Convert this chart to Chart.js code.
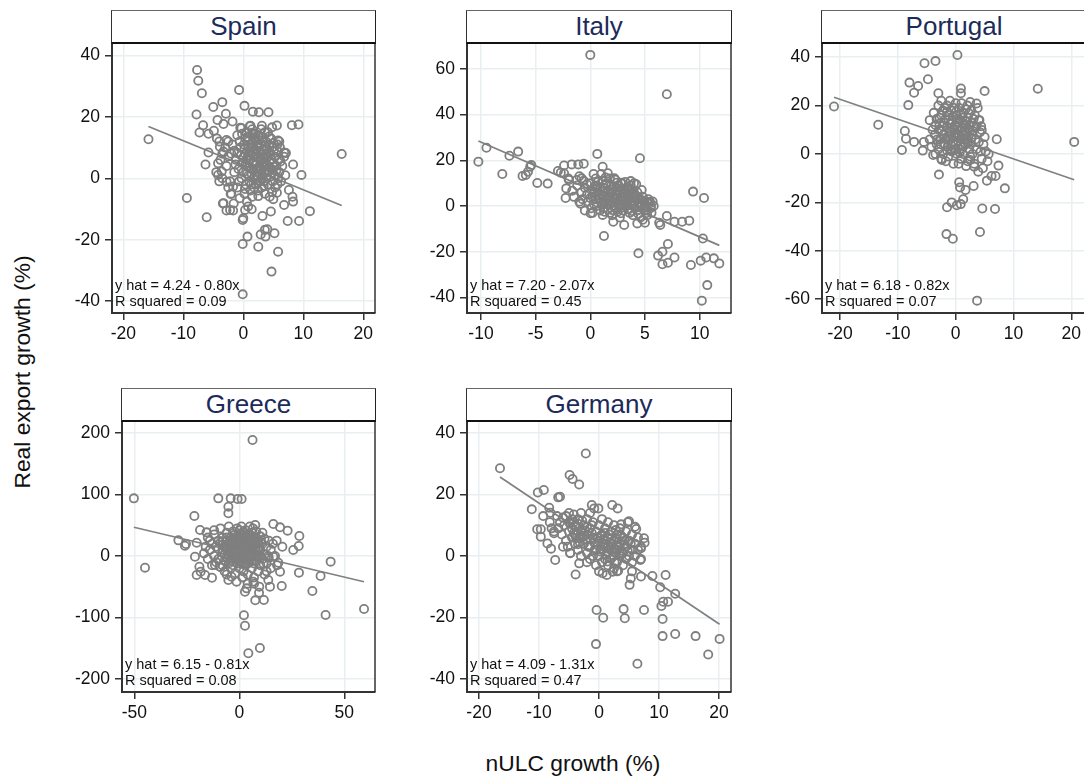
<!DOCTYPE html>
<html>
<head>
<meta charset="utf-8">
<script src="https://cdn.jsdelivr.net/npm/chart.js@4.4.1/dist/chart.umd.min.js"></script>
<style>
  html, body { margin:0; padding:0; background:#fff; width:1084px; height:778px; overflow:hidden; }
  body { position:relative; font-family:"Liberation Sans", Arial, sans-serif; }
  .panel { position:absolute; }
  .tbox { position:absolute; box-sizing:border-box; background:#fff;
          border-top:1.5px solid #666; border-left:1.5px solid #333; border-right:1.5px solid #222; border-bottom:2px solid #111;
          color:#1c2b5a; font-size:26px; text-align:center; line-height:30px; }
  .ytitle { position:absolute; font-size:22.8px; color:#111; white-space:nowrap; transform:translate(-50%,-50%) rotate(-90deg); }
  .xtitle { position:absolute; font-size:22.8px; color:#111; white-space:nowrap; transform:translate(-50%,-50%); }
</style>
</head>
<body>
<div class="ytitle" style="left:22px; top:372px;">Real export growth (%)</div>
<div class="xtitle" style="left:573px; top:763px;">nULC growth (%)</div>
<script>
// ---------- DATA ----------
const panelNames = ["Spain", "Italy", "Portugal", "Greece", "Germany"];

const fitIntercept = [4.24, 7.20, 6.18, 6.15, 4.09];
const fitSlope     = [-0.80, -2.07, -0.82, -0.81, -1.31];
const fitR2        = [0.09, 0.45, 0.07, 0.08, 0.47];

const spainXTicks = [-20, -10, 0, 10, 20];
const spainYTicks = [-40, -20, 0, 20, 40];
const italyXTicks = [-10, -5, 0, 5, 10];
const italyYTicks = [-40, -20, 0, 20, 40, 60];
const portugalXTicks = [-20, -10, 0, 10, 20];
const portugalYTicks = [-60, -40, -20, 0, 20, 40];
const greeceXTicks = [-50, 0, 50];
const greeceYTicks = [-200, -100, 0, 100, 200];
const germanyXTicks = [-20, -10, 0, 10, 20];
const germanyYTicks = [-40, -20, 0, 20, 40];

const spainPoints = [
 [-15.8,12.7],[-7.7,35.3],[-7.5,31.8],[-6.9,27.7],[-7.8,20.8],[-6.7,17.3],[-7.3,14.9],[-5,23.2],[-3.5,24.8],[-2.9,21.0],
 [-4.3,19.0],[-3.3,17.7],[-1.8,18.5],[-5.8,14.5],[-4.9,15.5],[-5.8,8.4],[-6.3,4.5],[-4.2,4.9],[-4.2,1.1],[-9.4,-6.4],
 [-6.1,-12.7],[-3.4,-8.2],[-2.8,-10.5],[-1.7,-10.5],[-1.6,-8.2],[-2.1,-5.1],[-0.7,28.8],[0.2,23.6],[1.6,21.7],[2.6,21.5],
 [4.2,21.5],[-0.3,16.3],[1.2,17.1],[3.1,17.1],[4.8,16.6],[5.6,17.2],[8.1,17.3],[9.2,17.5],[4.3,13.6],[5.8,12.3],
 [6.1,10.1],[6.8,8.4],[7.1,8.2],[8.3,4.5],[9.7,1.1],[16.4,7.9],[7.6,-3.8],[8.2,-6.0],[8.3,-7.6],[6.8,-8.7],
 [5.6,-4.7],[5.0,-6.8],[4.4,-6.0],[11.1,-10.7],[9.3,-13.9],[7.4,-13.9],[4.6,-10.8],[3.2,-12.3],[3.6,-16.8],[4.0,-16.6],
 [2.9,-18.3],[3.7,-19.0],[5.2,-17.9],[0.7,-19.0],[-0.1,-21.4],[2.5,-22.3],[5.8,-23.9],[4.7,-30.4],[-0.1,-37.8],[0,-13.0],
 [-0.1,-13.6],[0.3,-10.3],[0.8,-9.2],[0.6,-7.6],[1.4,-10.1],[2.5,-5.8],[-0.6,-6.5],[-3.3,-8.1],[-2.2,-10.3],
 [-4.4,13],[-3.9,10.3],[-3.3,8.7],[-2.8,12.5],[-2.5,7.1],[-3.6,2.2],[-2.8,-1.1],[-1.7,-2.7],
 [-2.5,12],[-2,8],[-2.8,4],[-1.5,2],[-2.2,-1],[-1,14],[-0.5,10],[-1.2,6],[-0.8,3],[-0.3,0],[-1,-3],[0.2,-5],
 [0.5,15],[0.8,12],[0.3,8],[1,6],[0.6,4],[0.9,1],[0.4,-2],[1.2,-4],
 [1.5,16],[1.8,13],[1.4,10],[2,8],[1.6,5],[2.2,3],[1.7,0],[2.1,-2],[1.5,-6],
 [2.6,14],[2.9,11],[2.5,9],[3,6],[2.7,4],[3.2,1],[2.8,-1],[3.1,-3],
 [3.6,15],[3.8,12],[3.5,9],[4,7],[3.7,5],[4.2,2],[3.9,0],[4.1,-2],[3.6,-5],
 [4.6,13],[4.8,10],[4.5,8],[5,5],[4.7,3],[5.2,1],[4.9,-1],[5.3,-3],
 [5.6,9],[5.9,6],[5.5,4],[6,2],[5.8,0],[6.3,-1],[6.5,4],[6.8,7],[7,1],
 [-3.5,8],[-3,10],[-4,12],[-3.8,6],[-4.5,2],[-3.5,0],[-2.5,-3],[-4,-1],[-2,-5],
 [0,2],[0.5,6],[1,9],[1.3,3],[1.9,7],[2.3,11],[2.4,1],[2.9,6.5],[3.3,8],[3.4,3.5],[4.4,5.5],[4.3,11],[5.3,7],
 [0.1,11],[-0.2,5],[-1.5,9],[-1.8,11],[-0.7,-1],[1,-1],[2.5,-4],[3.5,-1],[4.5,0.5],[5.5,2.5],[6.2,5.5],
 [0.7,13.5],[2,14.5],[3,16],[-0.5,16.5],[1.1,17],[5,11.5],[6,12],[2.2,5.5],[3.6,10.5],[1.6,11.5],[-1.3,4.5],
 [0.3,-3.5],[1.8,-3],[4.8,-4.5],[5.7,-2],
 [0.2,9.5],[0.8,7.5],[1.3,11],[1.9,9.5],[2.4,7],[2.9,2.5],[3.4,6.5],[3.9,9.5],[4.4,3.5],[0.6,1.5],
 [1.4,1.5],[2.0,-0.5],[3.0,-0.2],[3.8,2.8],[4.6,6.2],[5.1,9],[1.1,3.5],[2.6,12.5],[3.2,13.5],[0.3,13],
 [-0.4,7.5],[-0.6,12],[5.7,11],[4.1,15],[2.2,1],[1.2,7.3],[3.6,3.8],[4.9,1.8],[2.8,8.3],[1.7,14.2],
 [0.4,4.5],[1.6,8.5],[2.6,10.5],[3.1,4.8],[4.2,8.8],[1.9,4.2],[2.4,-1.5],[3.3,11.8],[0.9,10.2],[4.0,4.2],
 [2.1,12.8],[1.3,-2],[3.7,7.2],[2.7,2.8],[5.0,3.8],[0.0,6.8],[-1.0,8.2],[-0.2,14.5],[1.5,14.8],[3.4,-2.5]
];

const italyPoints = [
 [-10.24,19.4],[-9.5,25.5],[-8.05,14.0],[-7.4,22.0],[-6.6,23.8],[-6.2,13.1],[-5.9,13.6],[-5.7,15.0],[-5.5,17.2],[-5.4,17.9],
 [-4.85,10.1],[-3.9,9.8],[-2.96,15.3],[-2.7,14.6],[-2.4,17.7],[-2.4,14.3],[-1.7,18.2],[-1.1,18.2],[-0.6,18.5],[-2.2,7.7],
 [-2.26,3.5],[-1.65,6.7],[-1.0,1.9],[-1.95,11.4],[-1.25,11.4],[-0.8,12.1],[0,66.1],[0.64,22.8],[1.13,17.2],[1.6,14.3],
 [2.2,12.1],[2.87,10.2],[3.7,10.9],[4.0,9.9],[4.54,20.9],[7.0,48.9],[1.25,-13.1],[0.03,-3.2],[1.13,-3.9],[2.1,-6.9],
 [3.1,-8.3],[4.3,-7.6],[5.0,-7.3],[4.4,-20.7],[6.3,-7.3],[6.4,-8.3],[7.0,-4.4],[7.7,-6.9],[8.4,-6.9],[9.05,-6.4],
 [9.4,6.3],[10.4,3.5],[10.3,-14.2],[6.2,-21.7],[6.6,-20.0],[7.1,-16.6],[6.6,-25.5],[7.1,-24.8],[7.7,-22.5],[9.2,-25.8],
 [10.1,-23.9],[10.6,-22.5],[11.3,-22.9],[11.8,-25.1],[10.7,-34.6],[10.2,-41.4],[5.46,1.9],[5.55,-0.3],[5.1,-3.2],
 [-0.5,8],[-0.3,5],[-0.2,2],[0,10],[0.1,7],[0.2,4],[0.3,1],[0.1,-1],[0.5,12],[0.6,9],[0.7,6],[0.8,3],[0.6,0],[0.9,-2],
 [1.1,11],[1.2,8],[1.0,5],[1.3,2],[1.2,-1],[1.5,10],[1.6,7],[1.7,4],[1.5,1],[1.8,-3],[1.9,9],[2,6],[2.1,3],[2.2,0],[2.0,-4],
 [2.4,8],[2.5,5],[2.6,2],[2.4,-1],[2.7,-5],[2.8,10],[2.9,7],[3,4],[3.1,1],[3,-2],[3.3,8],[3.4,5],[3.5,3],[3.3,0],[3.6,-3],
 [3.8,7],[3.9,4],[4,2],[4.1,-1],[3.9,-4],[4.3,6],[4.4,3],[4.5,1],[4.3,-2],[4.6,-5],[4.8,4],[4.9,2],[5,0],[5.1,-2],[4.8,-6],
 [5.3,3],[5.4,1],[5.5,-1],[5.2,-4],[5.6,-3],
 [-0.8,6],[-0.7,3],[-0.6,11],[0.3,14],[1,14],[1.4,12.5],[2.3,11.5],[3.2,10.5],[3.7,9],[4.2,9.5],[4.7,7],[5.7,2],[5.8,0],
 [0.4,6],[0.9,8],[1.4,5.5],[1.9,2],[2.3,6.5],[2.8,3.5],[3.2,6.5],[3.7,1.5],[4.2,4.5],[4.7,0.5],[0.5,3],[1.1,0.5],[1.6,-1.5],
 [2.5,-2.5],[3.5,-1.5],[4.0,0],[4.4,-3.5],[2.1,8.5],[2.7,0.5],[1.8,12],[0.2,-3],
 [-1.5,4],[-1.2,9],[-2,12],[-1,13],[-0.9,1],[-0.5,-2],
 [0.8,4.5],[1.3,6.5],[1.8,5],[2.2,4],[2.6,6.8],[3.1,5.3],[3.6,4],[4.1,3],[1.6,2.5],[2.3,1.5],
 [2.9,2.2],[3.4,1.2],[1.0,2],[0.4,8.5],[1.4,9.3],[2.6,9],[3.9,5.8],[4.6,2.8],[4.9,-0.8],[3.8,-2.2],
 [2.9,-0.8],[2,-1.8],[1.3,-2.5],[0.7,10.5],[5.2,1.8],[-0.3,9.5],[0.0,3.5],
 [1.5,3.2],[2.0,7.2],[2.5,3.5],[3.0,5.8],[3.5,6.8],[1.2,4],[0.3,5.5],[2.8,-3.2],[4.0,5.2],[4.5,-0.5],
 [3.2,2.8],[1.8,0.8],[0.6,7.8],[2.4,10.2],[3.9,0.8]
];

const portugalPoints = [
 [-21.05,19.6],[-13.4,12.1],[-9.3,1.65],[-8.8,9.5],[-8.6,6.3],[-7.2,5.0],[-8.2,20.2],[-8.0,29.5],[-7.2,25.3],[-6.5,28.1],
 [-5.4,37.5],[-4.8,30.9],[-3.5,38.4],[0.3,40.9],[-3.0,25.1],[0.9,27.1],[0.9,25.1],[5.0,26.0],[14.2,27.0],[20.5,5.0],
 [7.1,6.1],[7.4,-4.8],[8.5,-14.2],[6.9,-9.1],[6.2,-9.1],[5.4,-11.0],[3.1,-13.2],[1.7,-14.9],[1.3,-18.7],[0.6,-11.7],
 [0.75,-13.8],[0.87,-20.7],[0.2,-21.2],[-0.7,-20.0],[-1.5,-22.0],[-1.6,-33.1],[-0.5,-35.0],[4.6,-22.5],[6.8,-22.7],[4.2,-32.2],
 [3.7,-60.6],[-2.9,-8.5],[-5.7,1.4],[-5.5,5.0],[-3.9,-0.4],[-2.4,-2.5],[2.5,-2.5],[3.2,-5.2],[3.9,-7.3],[4.7,-5.9],
 [5.7,0],[4.5,9.9],[4.1,14.0],[3.6,20.9],
 [-4.5,14],[-4,10],[-4.5,6],[-4.2,3],[-3.8,17],[-3.5,12],[-3.6,8],[-3.3,4],[-3.5,0],[-3,20],[-2.8,15],[-2.9,10],[-2.7,6],[-3,2],[-2.5,-2],
 [-2.2,18],[-2,13],[-2.1,8],[-1.9,4],[-2.2,0],[-1.5,20],[-1.3,16],[-1.5,11],[-1.2,7],[-1.4,3],[-1.3,-1],[-0.8,18],[-0.6,14],[-0.9,9],
 [-0.5,5],[-0.7,1],[-0.4,-4],[0,21],[0.2,16],[0,12],[0.3,8],[0,4],[0.2,0],[0.6,19],[0.8,14],[0.7,10],[1,6],[0.8,2],[0.9,-2],
 [1.3,17],[1.5,12],[1.4,8],[1.6,4],[1.3,0],[2,20],[2.1,15],[2.2,10],[2,6],[2.3,2],[2.1,-3],[2.7,18],[2.8,13],[2.9,8],[2.6,4],
 [2.9,0],[3.3,16],[3.5,11],[3.4,6],[3.6,2],[3.2,-4],[4,14],[4.2,9],[4,5],[4.3,1],[4.5,-2],[4.8,4],[5,7],[5.2,1],[5.5,-3],
 [-1,22],[1,21],[2.5,21.5],[3.8,19],[-2.5,22],[-0.2,2],[0.5,-4],[1.8,-5],[-1,6],[0.4,11],[1.2,15],[2.4,12],[-2.3,11.5],
 [-3.2,6],[0.1,17.5],[1.8,8.5],[3,9.5],[-0.3,7],[2.5,-1],[-1.7,-3],[4.4,11.5],
 [-2.5,16],[-1.8,14.5],[-1,12.5],[-0.2,10],[0.5,13],[1.1,11],[1.8,13.5],[2.5,9.5],[-2.4,9.5],[-1.6,6],
 [-0.8,3.5],[0.4,5.5],[1.3,3],[2.1,4.5],[-2.6,4],[-1.1,9.5],[0.9,16.5],[1.7,18.5],[-0.3,19],[-1.9,19],
 [3.1,14.5],[-3.3,14.5],[0.6,7.5],[-0.5,15.5],[1.5,9.8],[2.7,6.5],[-1.5,1.5],[0,1.8],
 [-1.2,14],[0.3,14.5],[1.5,6],[-0.6,11],[0.9,4],[2.2,7.5],[-2,6.5],[-0.1,8.8],[1.2,12.8],[-1.5,17.5],
 [2.3,16.8],[-2.8,12.5],[0.7,0.5],[3.2,11.8],[-0.9,1.5]
];

const greecePoints = [
 [-50.2,93.9],[-44.9,-19.0],[-29.0,25.5],[-25.9,16.8],[-25.4,19.5],[-21.4,65.1],[-21.1,-1.1],[-20.3,21.7],[-20.3,-30.9],[-18.7,42.3],
 [-19.0,-17.4],[-18.4,-25.5],[-16.8,4.3],[-16.3,-30.9],[-15.6,38.5],[-13.0,-35.3],[-10.0,93.9],[-5.2,80.3],[-5.2,69.5],[-4.1,93.9],
 [-0.8,92.8],[1.1,92.8],[6.3,188.9],[7.6,50.5],[16.2,52.1],[19.4,46.7],[23.0,41.3],[28.6,32.6],[28.3,16.3],[25.7,9.8],
 [17.8,25.0],[20.5,15.2],[19.4,-25.5],[20.2,-48.9],[28.4,-27.1],[38.7,-32.6],[43.5,-9.2],[34.8,-57.0],[41.1,-96.1],[59.4,-86.3],
 [2.2,-96.6],[2.7,-113.5],[4.3,-158.5],[9.8,-149.8],[7.6,-72.2],[11.7,-71.7],[9.4,-59.7],[2.7,-58.1],[3.5,-52.7],[6.7,-41.8],
 [14.6,-49.9],[13.8,-39.1],[9.5,-49.9],[-1.3,-41.8],[-3.7,-33.7],[-5.2,-39.1],[-9.2,-17.4],[-11.6,-14.7],[1.6,-34.7],[18.6,-10.9],
 [16.2,-1.1],[13.8,0],
 [-15,30],[-14,10],[-15,-5],[-13,20],[-12,0],[-12,35],[-11,-10],[-10,25],[-10,12],[-10,-5],[-9,45],[-8,30],[-8,18],[-8,5],[-8,-15],
 [-7,-25],[-6,38],[-6,24],[-6,10],[-6,-2],[-5,-12],[-5,48],[-4,30],[-4,18],[-4,4],[-4,-20],[-3,40],[-3,12],[-3,-5],[-2,25],
 [-2,0],[-2,-28],[-1,45],[-1,33],[-1,18],[-1,5],[-1,-12],[0,28],[0,10],[0,-20],[0,-3],[1,48],[1,36],[1,20],[1,2],
 [1,-10],[2,30],[2,14],[2,-25],[2,-4],[3,42],[3,24],[3,6],[3,-15],[4,35],[4,16],[4,-2],[4,-30],[5,48],[5,25],
 [5,8],[5,-10],[6,38],[6,15],[6,-20],[6,0],[7,28],[7,5],[7,-35],[8,40],[8,18],[8,-8],[9,25],[9,0],[9,-25],
 [10,32],[10,10],[10,-15],[11,20],[11,-5],[12,28],[12,3],[12,-30],[13,15],[13,-12],[14,25],[14,-3],[15,10],[15,-20],[16,20],
 [17,0],[18,-15],
 [-7,15],[-5,0],[-3,-15],[-2,35],[-0.5,22],[0.5,15],[2.5,38],[3.5,-8],[4.5,30],[5.5,18],[6.5,45],[7.5,12],[8.5,-2],[9.5,8],
 [10.5,22],[11.5,-12],[-11,15],[-9,-18],[-13,-15],[-14,25],[-16,15],[-12,42],[1.5,-35],[4,-45],[7,-45],[-6,-30],[11,38],
 [13,-25],[0,42],[-2,12],[2,22],[5,35],[-5,20],[8,30],
 [-8,10],[-6,30],[-4,12],[-2,18],[0,20],[2,8],[4,24],[6,8],[8,24],[-7,2],
 [-3,28],[1,28],[3,14],[5,0],[7,20],[9,14],[-5,8],[-1,-5],[3,32],[-9,22],
 [0,35],[6,-8],[-3,20],[2,-12],[4,8],[10,0],[-1,12],[1,-2],[-4,-8],[7,-12],
 [-6,18],[-2,5],[2,40],[4,-12],[-4,25],[0,-12],[6,28],[8,8],[-8,24],[3,-4],
 [5,15],[-1,28],[1,10],[9,20],[-7,-8]
];

const germanyPoints = [
 [-16.5,28.6],[-2.2,33.4],[-4.9,26.4],[-4.4,25.1],[-3.3,23.3],[-10.2,20.7],[-9.2,21.5],[-6.8,19.1],[-6.5,19.3],[-11.2,15.2],
 [-8.3,15.7],[-8.1,14.1],[-9.3,13.0],[-8.2,11.0],[-7.9,9.0],[-7.5,7.4],[-10.3,8.7],[-9.7,8.7],[-9.7,6.3],[-8.6,4.1],
 [-8.0,2.4],[-7.3,-1.3],[-4.8,0.9],[-3.9,-6.0],[-3.3,-2.4],[-1.2,16.6],[-0.8,15.5],[-0.1,15.5],[2.2,16.6],[3.1,15.5],
 [5.0,11.3],[3.7,10.3],[6.2,8.8],[7.5,5.8],[7.6,4.3],[7.0,2.5],[6.9,-1.3],[5.3,-7.3],[5.1,-9.4],[7.0,-6.7],
 [8.9,-6.5],[11.1,-6.2],[10.2,-10.2],[10.4,-16.3],[10.7,-14.9],[11.5,-14.9],[12.7,-12.3],[10.6,-20.5],[10.6,-26.1],[12.7,-25.4],
 [16.1,-26.1],[20.1,-27.0],[18.2,-32.1],[6.4,-35.1],[-0.5,-28.7],[-0.4,-17.6],[0.7,-20.1],[4.1,-17.3],[4.3,-20.3],[7.5,-17.6],
 [0.6,-5.6],[1.3,-6.2],[2.3,-5.1],[3.2,-4.8],
 [-7,13],[-6.5,11],[-6.8,9],[-6,12.5],[-6.2,7],[-5.5,13],[-5.8,10],[-5.5,5],[-5,14],[-5,8],[-5.2,3],[-4.5,12],[-4.5,6],[-4.8,1],
 [-4,10],[-4,4],[-4.2,13.5],[-3.5,8],[-3.5,2],[-3.5,12],[-3,14],[-3,6],[-3,0],[-2.5,10],[-2.5,4],[-2.8,8.5],[-2,12],[-2,7],
 [-2,1],[-1.5,9],[-1.5,3],[-1.5,-1],[-1,11],[-1,6],[-1,0],[-0.5,8],[-0.5,2],[-0.5,-3],[0,10],[0,5],[0,0],[0.5,12],[0.5,7],
 [0.5,2],[0.5,-2],[1,9],[1,4],[1,-1],[1.5,11],[1.5,6],[1.5,1],[1.5,-3],[2,8],[2,3],[2,-1],[2.5,10],[2.5,5],[2.5,0],[2.5,-4],
 [3,7],[3,2],[3,-2],[3.5,9],[3.5,4],[3.5,0],[4,6],[4,1],[4,-3],[4.5,8],[4.5,3],[4.5,-1],[5,5],[5,0],[5.5,7],[5.5,2],[5.5,-2],
 [6,4],[6,0],[6.5,6],[6.5,2],[7,3],[7,-1],
 [-3.2,4.5],[-2.2,5.5],[-1.2,7.5],[-3.8,9.5],[-4.2,7.5],[-0.2,3.5],[1.2,2.5],[2.2,1.5],[3.2,3.5],[0.8,5.5],[1.8,4.5],[-6,3],
 [-7.5,8],[-2,-2],[0,-5],[3,-5],[5.5,-5],[6,9.5],[4.8,11],[-1.5,14],
 [-5,11],[-4.5,9],[-4,7],[-3.5,10.5],[-3,8],[-2.5,6.5],[-2,9.5],[-1.5,5.5],[-3.8,5.8],[-4.8,10.5],
 [-2.8,11.5],[0.2,1.5],[0.8,3],[1.2,0.5],[1.8,2.2],[2.2,4],[2.8,1],[3.3,2.8],[3.8,1.8],[4.3,5],
 [1.4,-1.8],[2.6,-2],[0.3,6.5],[1.7,7],[2.8,8.5],[-0.8,4.3],[-1.8,3],[4.8,1.5],[5.3,4],[3.6,6.8],
 [-4.2,11],[-3.2,6.5],[-2.3,8.2],[-1.2,10],[-0.3,6],[0.6,3.8],[1.5,3],[2.4,2.2],[3.4,1],[4.2,3.8],
 [2.1,5.8],[-0.8,1.8],[-3.5,3.8],[1,7.5],[3,5.5]
];

// ---------- LAYOUT (positions, not data) ----------
const layoutBoxes = [
  { left:112, top:43, width:263, height:270, titleTop:10,  xr:[-21.88, 21.95], yr:[-43.88, 44.07] },
  { left:467, top:43, width:264, height:270, titleTop:10,  xr:[-11.28, 12.87], yr:[-46.8, 71.3] },
  { left:822, top:43, width:264, height:270, titleTop:10,  xr:[-23.13, 22.54], yr:[-65.7, 45.87] },
  { left:122, top:421, width:253, height:271, titleTop:388, xr:[-55.86, 64.62], yr:[-221.5, 219.9] },
  { left:467, top:421, width:264, height:271, titleTop:388, xr:[-22.0, 22.0], yr:[-44.3, 43.97] }
];
const pointSets = [spainPoints, italyPoints, portugalPoints, greecePoints, germanyPoints];
const xTickSets = [spainXTicks, italyXTicks, portugalXTicks, greeceXTicks, germanyXTicks];
const yTickSets = [spainYTicks, italyYTicks, portugalYTicks, greeceYTicks, germanyYTicks];

const FONT = '"Liberation Sans", Arial, sans-serif';
const YW = 62, PT = 24, PR = 26, XH = 36;

const panelDecor = {
  id: 'panelDecor',
  afterDatasetsDraw(chart, args, opts) {
    const { ctx, chartArea: a } = chart;
    ctx.save();
    ctx.strokeStyle = '#333';
    ctx.lineWidth = 1.5;
    ctx.beginPath(); ctx.moveTo(a.right, a.top); ctx.lineTo(a.right, a.bottom); ctx.stroke();
    ctx.fillStyle = '#111';
    ctx.font = '14.5px ' + FONT;
    ctx.textAlign = 'left';
    ctx.textBaseline = 'alphabetic';
    ctx.fillText(opts.line1, a.left + 3, a.bottom - 23);
    ctx.fillText(opts.line2, a.left + 3, a.bottom - 7);
    ctx.restore();
  }
};

panelNames.forEach((name, i) => {
  const g = layoutBoxes[i];
  const pts = pointSets[i];
  const a = fitIntercept[i], b = fitSlope[i];
  const xs = pts.map(p => p[0]);
  const xmin = Math.min(...xs), xmax = Math.max(...xs);

  const tb = document.createElement('div');
  tb.className = 'tbox';
  tb.textContent = name;
  Object.assign(tb.style, { left:(g.left - 1) + 'px', top:g.titleTop + 'px', width:(g.width + 2) + 'px', height:(g.top - g.titleTop + 1) + 'px' });

  const wrap = document.createElement('div');
  wrap.className = 'panel';
  Object.assign(wrap.style, { left:(g.left - YW) + 'px', top:(g.top - PT) + 'px', width:(g.width + YW + PR) + 'px', height:(g.height + PT + XH) + 'px' });
  const cv = document.createElement('canvas');
  wrap.appendChild(cv);
  document.body.appendChild(wrap);
  document.body.appendChild(tb);

  const sign = b < 0 ? ' - ' : ' + ';
  const line1 = 'y hat = ' + a.toFixed(2) + sign + Math.abs(b).toFixed(2) + 'x';
  const line2 = 'R squared = ' + fitR2[i].toFixed(2);

  const xt = xTickSets[i], yt = yTickSets[i];
  const gridCommon = { color:'#e9eff0', lineWidth:1.5, tickLength:7, tickColor:'#333', tickWidth:1.5, drawOnChartArea:true };

  new Chart(cv, {
    type: 'scatter',
    data: {
      datasets: [
        { data: pts.map(p => ({ x:p[0], y:p[1] })), pointStyle:'circle', pointRadius:4.1, pointHoverRadius:4.1,
          borderColor:'#7f7f7f', borderWidth:1.8, backgroundColor:'rgba(0,0,0,0)', order:2 },
        { type:'line', data:[{ x:xmin, y:a + b * xmin }, { x:xmax, y:a + b * xmax }], borderColor:'#808080',
          borderWidth:1.7, pointRadius:0, fill:false, order:1 }
      ]
    },
    options: {
      responsive:true, maintainAspectRatio:false, animation:false,
      layout: { padding: { top:PT, right:PR, left:0, bottom:0 } },
      plugins: { legend:{ display:false }, tooltip:{ enabled:false }, title:{ display:false },
                 panelDecor: { line1, line2 } },
      scales: {
        x: { type:'linear', min:g.xr[0], max:g.xr[1],
             afterBuildTicks: ax => { ax.ticks = xt.map(v => ({ value:v })); },
             afterFit: ax => { ax.height = XH; },
             grid: gridCommon,
             border: { display:true, color:'#333', width:2 },
             ticks: { font:{ family:FONT, size:17.5 }, color:'#111', padding:4, maxRotation:0, autoSkip:false } },
        y: { type:'linear', min:g.yr[0], max:g.yr[1],
             afterBuildTicks: ax => { ax.ticks = yt.map(v => ({ value:v })); },
             afterFit: ax => { ax.width = YW; },
             grid: gridCommon,
             border: { display:true, color:'#333', width:2 },
             ticks: { font:{ family:FONT, size:17.5 }, color:'#111', padding:5, autoSkip:false } }
      }
    },
    plugins: [panelDecor]
  });
});
</script>
</body>
</html>
